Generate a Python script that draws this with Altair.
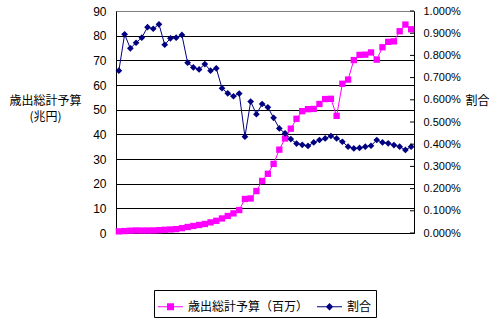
import altair as alt
import pandas as pd

years = list(range(1950, 2002))
budget = [0.66, 0.79, 0.93, 1.03, 1.00, 0.99, 1.03, 1.14, 1.31, 1.42,
          1.57, 1.95, 2.43, 2.85, 3.26, 3.66, 4.31, 4.95, 5.9, 6.9,
          7.95, 9.3, 13.8, 14.0, 17.0, 21.1, 24.0, 28.0, 33.8, 38.3,
          42.3, 46.3, 49.4, 50.2, 50.3, 52.3, 54.3, 54.4, 47.5, 60.5,
          62.2, 70.1, 72.2, 72.3, 73.2, 70.3, 75.3, 77.5, 77.7, 81.8,
          84.5, 82.6]
ratio = [0.731, 0.895, 0.832, 0.857, 0.880, 0.927, 0.920, 0.940, 0.848, 0.877,
         0.880, 0.892, 0.767, 0.746, 0.737, 0.761, 0.731, 0.742, 0.652, 0.629,
         0.616, 0.628, 0.434, 0.592, 0.535, 0.581, 0.566, 0.519, 0.471, 0.449,
         0.423, 0.403, 0.397, 0.392, 0.408, 0.419, 0.426, 0.437, 0.426, 0.411,
         0.389, 0.381, 0.383, 0.389, 0.393, 0.419, 0.408, 0.404, 0.396, 0.389,
         0.374, 0.389]
series_names = ["歳出総計予算（百万）", "割合"]
series_colors = ["#FF00FF", "#000080"]
legend_shapes = [
    "M-1,-0.045L1,-0.045L1,0.045L-1,0.045ZM-0.28,-0.28L0.28,-0.28L0.28,0.28L-0.28,0.28Z",
    "M-1,-0.045L1,-0.045L1,0.045L-1,0.045ZM0,-0.3L0.3,0L0,0.3L-0.3,0Z",
]
left_ticks = list(range(0, 100, 10))
right_ticks = [round(i * 0.1, 1) for i in range(11)]
cat_ticks = [1949.5 + k for k in range(len(years) + 1)]

df_b = pd.DataFrame({"year": years, "v": budget, "s": series_names[0]})
df_r = pd.DataFrame({"year": years, "v": ratio, "s": series_names[1]})
df_all = pd.concat([df_b, df_r], ignore_index=True)
df_t = pd.DataFrame({"t": right_ticks})

xscale = alt.Scale(domain=[1949.5, 2001.5], nice=False, zero=False)
lscale = alt.Scale(domain=[0, 90], nice=False)
rscale = alt.Scale(domain=[0, 1], nice=False)

JP = "Noto Sans CJK JP"
NUM = "Liberation Sans"

x_axis = alt.Axis(orient="bottom", values=cat_ticks, labels=False, tickSize=4,
                  tickColor="black", domainColor="black", grid=False,
                  title="年度", titleX=2, titleY=15, titleBaseline="middle",
                  titleAlign="center", titleFont=JP, titleFontSize=11,
                  titleFontWeight="normal", titleColor="black")

left_axis = alt.Axis(orient="left", values=left_ticks, grid=True,
                     gridColor={"condition": {"test": "datum.value == 90", "value": "#808080"}, "value": "black"},
                     gridWidth=1, tickSize=0, domainColor="black", labelPadding=10,
                     labelFont=NUM, labelFontSize=12, labelColor="black",
                     title=["歳出総計予算", "(兆円)"], titleAngle=0, titleAlign="center",
                     titleBaseline="top", titleX=-71, titleY=84, titleFont=JP,
                     titleFontSize=12, titleFontWeight="normal", titleLineHeight=16,
                     titleColor="black")

right_axis = alt.Axis(orient="right", values=right_ticks, grid=False, tickSize=0,
                      labelExpr="format(datum.value, '.3f') + '%'",
                      domainColor="black", labelPadding=9, labelFont=NUM,
                      labelFontSize=11, labelColor="black",
                      title="割合", titleAngle=0, titleAlign="center",
                      titleBaseline="middle", titleX=63, titleY=89, titleFont=JP,
                      titleFontSize=12, titleFontWeight="normal", titleColor="black")

legend = alt.Legend(
    orient="none", legendX=38, legendY=279, direction="horizontal", title=None,
    strokeColor="black", fillColor="white", padding=4, symbolSize=625,
    labelFont=JP, labelFontSize=12, labelColor="black", labelOffset=5,
    columnPadding=8, symbolOpacity=1, symbolStrokeWidth=0,
)

pink_line = alt.Chart(df_b).mark_line(color="#FF00FF", strokeWidth=1).encode(
    x=alt.X("year:Q", scale=xscale, axis=x_axis),
    y=alt.Y("v:Q", scale=lscale, axis=left_axis),
)
pink_pts = alt.Chart(df_b).mark_point(shape="square", filled=True, size=40, opacity=1,
                                      color="#FF00FF").encode(
    x=alt.X("year:Q", scale=xscale, axis=None),
    y=alt.Y("v:Q", scale=lscale, axis=None),
)
navy_line = alt.Chart(df_r).mark_line(color="#000080", strokeWidth=1).encode(
    x=alt.X("year:Q", scale=xscale, axis=None),
    y=alt.Y("v:Q", scale=rscale, axis=right_axis),
)
navy_pts = alt.Chart(df_r).mark_point(shape="diamond", filled=True, size=45, opacity=1,
                                      color="#000080").encode(
    x=alt.X("year:Q", scale=xscale, axis=None),
    y=alt.Y("v:Q", scale=rscale, axis=None),
)
legend_layer = alt.Chart(df_all).mark_point(filled=True, opacity=0).encode(
    x=alt.X("year:Q", scale=xscale, axis=None),
    y=alt.Y("v:Q", scale=lscale, axis=None),
    color=alt.Color("s:N", scale=alt.Scale(domain=series_names, range=series_colors), legend=legend),
    shape=alt.Shape("s:N", scale=alt.Scale(domain=series_names, range=legend_shapes), legend=legend),
)
right_tick_marks = alt.Chart(df_t).mark_rule(color="black", strokeWidth=1).encode(
    y=alt.Y("t:Q", scale=rscale, axis=None),
    x=alt.value(294),
    x2=alt.value(298),
)

chart = alt.layer(pink_line, pink_pts, navy_line, navy_pts, right_tick_marks, legend_layer).resolve_scale(
    y="independent"
).properties(
    width=298, height=222,
    autosize=alt.AutoSizeParams(type="none"),
    padding={"left": 116, "top": 11, "right": 77, "bottom": 85},
    background="white",
).configure_view(stroke="#808080", strokeWidth=1)

chart.save("out.html", embed_options={"renderer": "svg", "actions": False})
